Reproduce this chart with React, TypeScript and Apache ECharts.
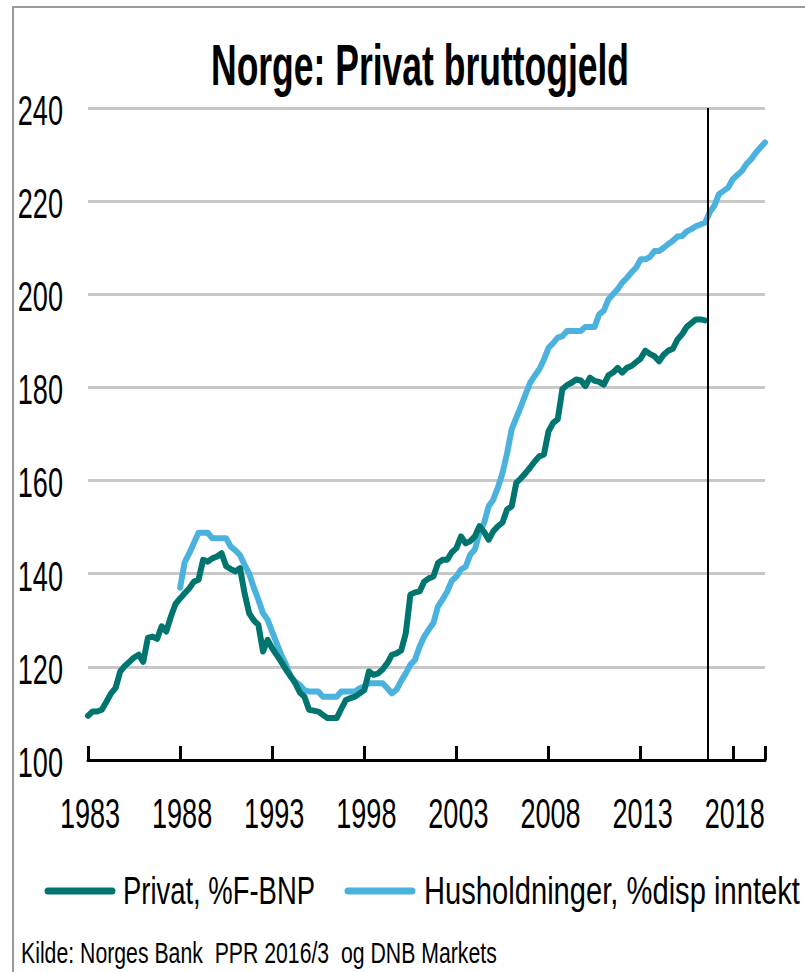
import React, { useEffect, useRef } from "react";
import * as echarts from "echarts";

const FAMILY = "'Liberation Sans', Arial, sans-serif";

const TITLE = "Norge: Privat bruttogjeld";
const SOURCE = "Kilde: Norges Bank  PPR 2016/3  og DNB Markets";
const SERIES_NAMES = ["Privat, %F-BNP", "Husholdninger, %disp inntekt"];
const COLORS = ["#007570", "#4BB2DE"];

const X_TICKS = [1983, 1988, 1993, 1998, 2003, 2008, 2013, 2018];
const Y_TICKS = [100, 120, 140, 160, 180, 200, 220, 240];

// quarterly values, first value = Q1 of start year
const privatStart = 1983;
const privatValues = [
  109.5, 110.4, 110.4, 110.8,
  112.5, 114.3, 115.5, 119.0,
  120.2, 121.1, 122.0, 122.6,
  121.1, 126.2, 126.5, 126.0,
  128.7, 127.6, 130.8, 133.5,
  134.7, 135.8, 136.9, 138.3,
  138.7, 143.0, 142.6, 143.3,
  143.7, 144.4, 141.6, 141.0,
  140.5, 141.2, 135.8, 131.5,
  130.0, 129.0, 123.3, 125.8,
  124.0, 122.5, 121.0, 119.4,
  118.0, 116.5, 114.5, 113.6,
  110.8, 110.6, 110.4, 109.7,
  109.0, 109.0, 109.0, 111.0,
  112.9, 113.3, 113.6, 114.3,
  115.0, 119.0, 118.3, 118.6,
  119.5, 120.8, 122.6, 122.9,
  123.5, 127.2, 135.5, 136.0,
  136.2, 138.3, 139.0, 139.4,
  142.3, 143.0, 143.0, 144.6,
  145.5, 148.0, 146.5, 147.0,
  148.0, 150.2, 149.0, 147.3,
  149.1, 150.2, 151.0, 153.8,
  154.5, 159.5, 160.5, 161.6,
  162.8, 164.1, 165.2, 165.6,
  170.6, 172.4, 173.2, 179.6,
  180.5, 181.0, 181.7, 181.5,
  180.3, 182.1, 181.4, 181.2,
  180.6, 182.6, 183.2, 184.2,
  183.2, 184.2, 184.6, 185.4,
  186.2, 187.9, 187.2, 186.7,
  185.6, 187.0, 187.9, 188.3,
  190.3, 191.4, 193.0, 193.8,
  194.6, 194.6, 194.4,
];

const husStart = 1988;
const husValues = [
  137.0, 142.5, 144.4, 146.6,
  148.8, 148.8, 148.8, 147.6,
  147.6, 147.6, 147.6, 145.8,
  145.0, 144.0, 141.9, 140.0,
  137.0, 134.4, 131.5, 130.1,
  127.5, 125.0, 122.5, 120.5,
  117.9, 116.8, 116.1, 115.0,
  114.7, 114.7, 114.7, 113.6,
  113.6, 113.6, 113.6, 114.7,
  114.7, 114.7, 114.7, 115.4,
  115.8, 116.5, 116.5, 116.5,
  116.5, 115.4, 114.3, 115.1,
  117.0, 118.6, 120.5, 121.5,
  124.3, 126.5, 128.0, 129.4,
  133.0, 134.5, 136.2, 138.5,
  139.4, 140.9, 141.5, 144.1,
  145.2, 148.8, 150.9, 154.5,
  155.9, 158.5, 161.6, 165.9,
  171.0, 173.5, 175.9, 178.5,
  181.0, 182.5, 183.9, 186.0,
  188.5, 189.5, 190.7, 191.0,
  192.1, 192.1, 192.1, 192.1,
  193.0, 193.0, 193.0, 195.7,
  196.5, 198.9, 200.0, 201.1,
  202.5, 203.5, 204.7, 205.7,
  207.5, 207.5, 208.0, 209.3,
  209.3, 210.0, 210.8, 211.5,
  212.4, 212.5, 213.5, 214.0,
  214.6, 215.0, 215.4, 217.6,
  219.0, 221.5, 222.2, 222.9,
  224.7, 225.6, 226.5, 228.0,
  229.0, 230.4, 231.5, 232.6,
];

const X_MIN = 1983;
const X_MAX = 2019.75;
const X_INTERVAL = 5;
const Y_MIN = 100;
const Y_MAX = 240;
const Y_INTERVAL = 20;
const FORECAST_LINE = 2016.65;

const toPairs = (start: number, vals: number[]) =>
  vals.map((v, i) => [start + i / 4, v]);

let measureCtx: CanvasRenderingContext2D | null = null;
function measure(text: string, size: number, bold = false): number {
  if (!measureCtx) measureCtx = document.createElement("canvas").getContext("2d");
  if (!measureCtx) return text.length * size * 0.55;
  measureCtx.font = `${bold ? "bold " : ""}${size}px "Liberation Sans", Arial, sans-serif`;
  return measureCtx.measureText(text).width;
}

function fitText(
  text: string,
  size: number,
  left: number,
  width: number,
  cy: number,
  bold = false
) {
  const w = measure(text, size, bold);
  return {
    type: "text",
    x: left,
    y: cy,
    scaleX: width / w,
    silent: true,
    style: {
      text,
      fontFamily: FAMILY,
      fontSize: size,
      fontWeight: bold ? "bold" : "normal",
      fill: "#000",
      align: "left",
      verticalAlign: "middle",
    },
  };
}

const LABEL_SIZE = 42;
const LABEL_SCALE = 0.645;

export default function App() {
  const ref = useRef<HTMLDivElement>(null);
  useEffect(() => {
    if (!ref.current) return;
    const chart = echarts.init(ref.current, null, { renderer: "svg" });
    chart.setOption({
      animation: false,
      backgroundColor: "#ffffff",
      grid: { left: 88, right: 40, top: 108, bottom: 212, containLabel: false },
      xAxis: {
        type: "value",
        min: X_MIN,
        max: X_MAX,
        interval: X_INTERVAL,
        axisLine: { show: true, lineStyle: { color: "#000", width: 3 } },
        axisTick: { show: true, inside: true, length: 14, lineStyle: { color: "#000", width: 3 } },
        axisLabel: { show: false },
        splitLine: { show: false },
      },
      yAxis: {
        type: "value",
        min: Y_MIN,
        max: Y_MAX,
        interval: Y_INTERVAL,
        axisLine: { show: false },
        axisTick: { show: false },
        axisLabel: { show: false },
        splitLine: { show: true, lineStyle: { color: "#c8c8c8", width: 3 } },
      },
      series: [
        {
          name: SERIES_NAMES[0],
          type: "line",
          data: toPairs(privatStart, privatValues),
          showSymbol: false,
          symbol: "none",
          lineStyle: { color: COLORS[0], width: 6, cap: "round", join: "round" },
          itemStyle: { color: COLORS[0] },
          z: 3,
          markLine: {
            silent: true,
            symbol: ["none", "none"],
            label: { show: false },
            lineStyle: { color: "#000", width: 2, type: "solid" },
            data: [{ xAxis: FORECAST_LINE }],
          },
        },
        {
          name: SERIES_NAMES[1],
          type: "line",
          data: toPairs(husStart, husValues),
          showSymbol: false,
          symbol: "none",
          lineStyle: { color: COLORS[1], width: 6, cap: "round", join: "round" },
          itemStyle: { color: COLORS[1] },
          z: 2,
        },
      ],
    });

    const xAxisY = chart.convertToPixel({ yAxisIndex: 0 }, Y_MIN) as number;
    const gridLeft = chart.convertToPixel({ xAxisIndex: 0 }, X_MIN) as number;

    const labelStyle = (text: string, align: string) => ({
      text,
      fontFamily: FAMILY,
      fontSize: LABEL_SIZE,
      fill: "#000",
      align,
      verticalAlign: "middle",
    });

    const yLabels = Y_TICKS.map((v) => ({
      type: "text",
      x: gridLeft - 25,
      y: (chart.convertToPixel({ yAxisIndex: 0 }, v) as number) + 2,
      scaleX: LABEL_SCALE,
      silent: true,
      style: labelStyle(String(v), "right"),
    }));
    const xLabels = X_TICKS.map((v) => ({
      type: "text",
      x: (chart.convertToPixel({ xAxisIndex: 0 }, v) as number) + 2,
      y: xAxisY + 53,
      scaleX: LABEL_SCALE,
      silent: true,
      style: labelStyle(String(v), "center"),
    }));

    const legendY = 891;
    const legend = [
      {
        type: "line",
        silent: true,
        shape: { x1: 48, y1: legendY, x2: 112, y2: legendY },
        style: { stroke: COLORS[0], lineWidth: 7, lineCap: "round" },
      },
      fitText(SERIES_NAMES[0], 38, 123, 192, legendY),
      {
        type: "line",
        silent: true,
        shape: { x1: 348, y1: legendY, x2: 412, y2: legendY },
        style: { stroke: COLORS[1], lineWidth: 7, lineCap: "round" },
      },
      fitText(SERIES_NAMES[1], 38, 424, 376, legendY),
    ];

    chart.setOption({
      graphic: [
        {
          type: "rect",
          silent: true,
          shape: { x: 13, y: 7, width: 900, height: 1000 },
          style: { fill: "none", stroke: "#9a9a9a", lineWidth: 2 },
        },
        fitText(TITLE, 58, 211, 418, 64, true),
        fitText(SOURCE, 29, 21, 476, 953),
        ...yLabels,
        ...xLabels,
        ...legend,
      ],
    });
    return () => chart.dispose();
  }, []);
  return (
    <div
      ref={ref}
      style={{ position: "fixed", left: 0, top: 0, width: 805, height: 972 }}
    />
  );
}
